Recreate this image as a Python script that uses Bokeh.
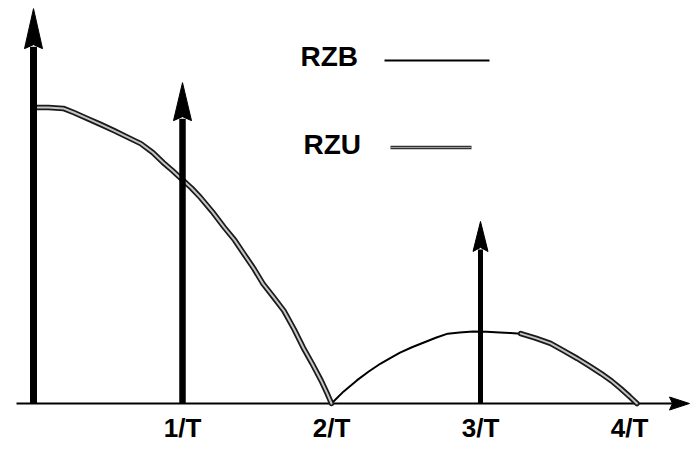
import numpy as np
from bokeh.plotting import figure
from bokeh.models import Range1d
from bokeh.core.properties import value
from bokeh.embed import file_html
from bokeh.resources import INLINE

# ---- data (frequency in units of 1/T) ----
tick_values = [1, 2, 3, 4]
tick_labels = ["1/T", "2/T", "3/T", "4/T"]

impulse_f = [0, 1, 3]
impulse_h = [1.334, 1.084, 0.615]

rzu_f = [0.0, 0.10, 0.20, 0.27, 0.36, 0.45, 0.54, 0.63, 0.72, 0.80, 0.87, 0.93, 0.99, 1.06, 1.12, 1.20,
         1.28, 1.35, 1.41, 1.48, 1.54, 1.61, 1.68, 1.75, 1.81, 1.87, 1.93, 1.97, 2.0]
rzu_a = [1.0, 1.0, 0.997, 0.983, 0.963, 0.943, 0.922, 0.900, 0.878, 0.848, 0.814, 0.788, 0.760, 0.728,
         0.696, 0.648, 0.595, 0.552, 0.507, 0.455, 0.405, 0.360, 0.314, 0.250, 0.189, 0.135, 0.078, 0.035, 0.0]

rzb_f = [2.0, 2.08, 2.17, 2.25, 2.33, 2.40, 2.46, 2.54, 2.62, 2.70, 2.78, 2.86, 2.95, 3.04, 3.13, 3.20,
         3.27, 3.37, 3.47, 3.56, 3.65, 3.73, 3.81, 3.88, 3.94, 4.00, 4.05]
rzb_a = [0.0, 0.040, 0.078, 0.108, 0.135, 0.155, 0.172, 0.190, 0.206, 0.222, 0.236, 0.240, 0.243, 0.242,
         0.240, 0.238, 0.236, 0.221, 0.203, 0.178, 0.152, 0.127, 0.101, 0.076, 0.051, 0.024, 0.0]

legend_names = ["RZB", "RZU"]

# ---- layout (canvas pixels) ----
W, H = 690, 445
X0_PX, Y0_PX = 33, 403      # pixel position of the origin inside the canvas
SX, SY = 149.0, 296.0       # pixels per data unit
TXT = 11                    # text baseline correction


def px_x(px):
    return (px - X0_PX) / SX


def px_y(py):
    return (Y0_PX - py) / SY


def dx(px):
    return px / SX


def dy(py):
    return py / SY


p = figure(width=W, height=H, output_backend="svg", toolbar_location=None, title=None,
           x_axis_location=None, y_axis_location=None,
           x_range=Range1d(px_x(0), px_x(W)), y_range=Range1d(px_y(H), px_y(0)),
           min_border=0)
p.grid.visible = False
p.outline_line_color = None
p.background_fill_color = "white"
p.border_fill_color = "white"

FONT = value("Liberation Sans")

# x axis line with arrow
ax_start, ax_tip = px_x(16), px_x(689)
p.segment(x0=[ax_start], y0=[0], x1=[ax_tip - dx(14)], y1=[0], line_color="black", line_width=2)
p.patch(x=[ax_tip - dx(20), ax_tip, ax_tip - dx(20), ax_tip - dx(17)], y=[dy(6.5), 0, -dy(6.5), 0],
        fill_color="black", line_color="black", line_width=1)

# split of the hump: single line (RZB) and the double-line tail (RZU)
f_arr = np.array(rzb_f)
a_arr = np.array(rzb_a)
tail = f_arr >= 3.27
rzu_xs = [rzu_f, list(f_arr[tail])]
rzu_ys = [rzu_a, list(a_arr[tail])]

# RZB spectrum (single line)
p.line(rzb_f, rzb_a, line_color="black", line_width=2)
# RZU spectrum (double line)
p.multi_line(xs=rzu_xs, ys=rzu_ys, line_color="#1a1a1a", line_width=5.5, line_join="round", line_cap="round")
p.multi_line(xs=rzu_xs, ys=rzu_ys, line_color="#c4c4c4", line_width=2, line_join="round", line_cap="round")

# impulses (arrows)
heads = [(18, 40, 7), (18, 38, 6.5), (15, 30, 5)]
for f, h, (hw, hl, lw) in zip(impulse_f, impulse_h, heads):
    p.segment(x0=[f], y0=[0], x1=[f], y1=[h - dy(hl) + dy(2)], line_color="black", line_width=lw)
    p.patch(x=[f - dx(hw / 2), f, f + dx(hw / 2), f],
            y=[h - dy(hl), h, h - dy(hl), h - dy(hl) + dy(4)],
            fill_color="black", line_color="black", line_width=1)

# tick labels
p.text(x=tick_values, y=[px_y(438 - TXT)] * len(tick_values), text=tick_labels,
       text_font=FONT, text_font_style="bold", text_font_size="26px",
       text_align="center", text_baseline="alphabetic", text_color="black")

# legend
p.text(x=[px_x(300), px_x(303)], y=[px_y(67 - TXT), px_y(155 - TXT)], text=legend_names,
       text_font=FONT, text_font_style="bold", text_font_size="28px",
       text_align="left", text_baseline="alphabetic", text_color="black")
p.segment(x0=[px_x(384)], y0=[px_y(60)], x1=[px_x(489)], y1=[px_y(60)],
          line_color="black", line_width=2)
p.segment(x0=[px_x(390)], y0=[px_y(147)], x1=[px_x(471)], y1=[px_y(147)],
          line_color="#333333", line_width=3.5)
p.segment(x0=[px_x(390)], y0=[px_y(147)], x1=[px_x(471)], y1=[px_y(147)],
          line_color="#9a9a9a", line_width=1.2)

open("out.html", "w").write(file_html(p, INLINE))
